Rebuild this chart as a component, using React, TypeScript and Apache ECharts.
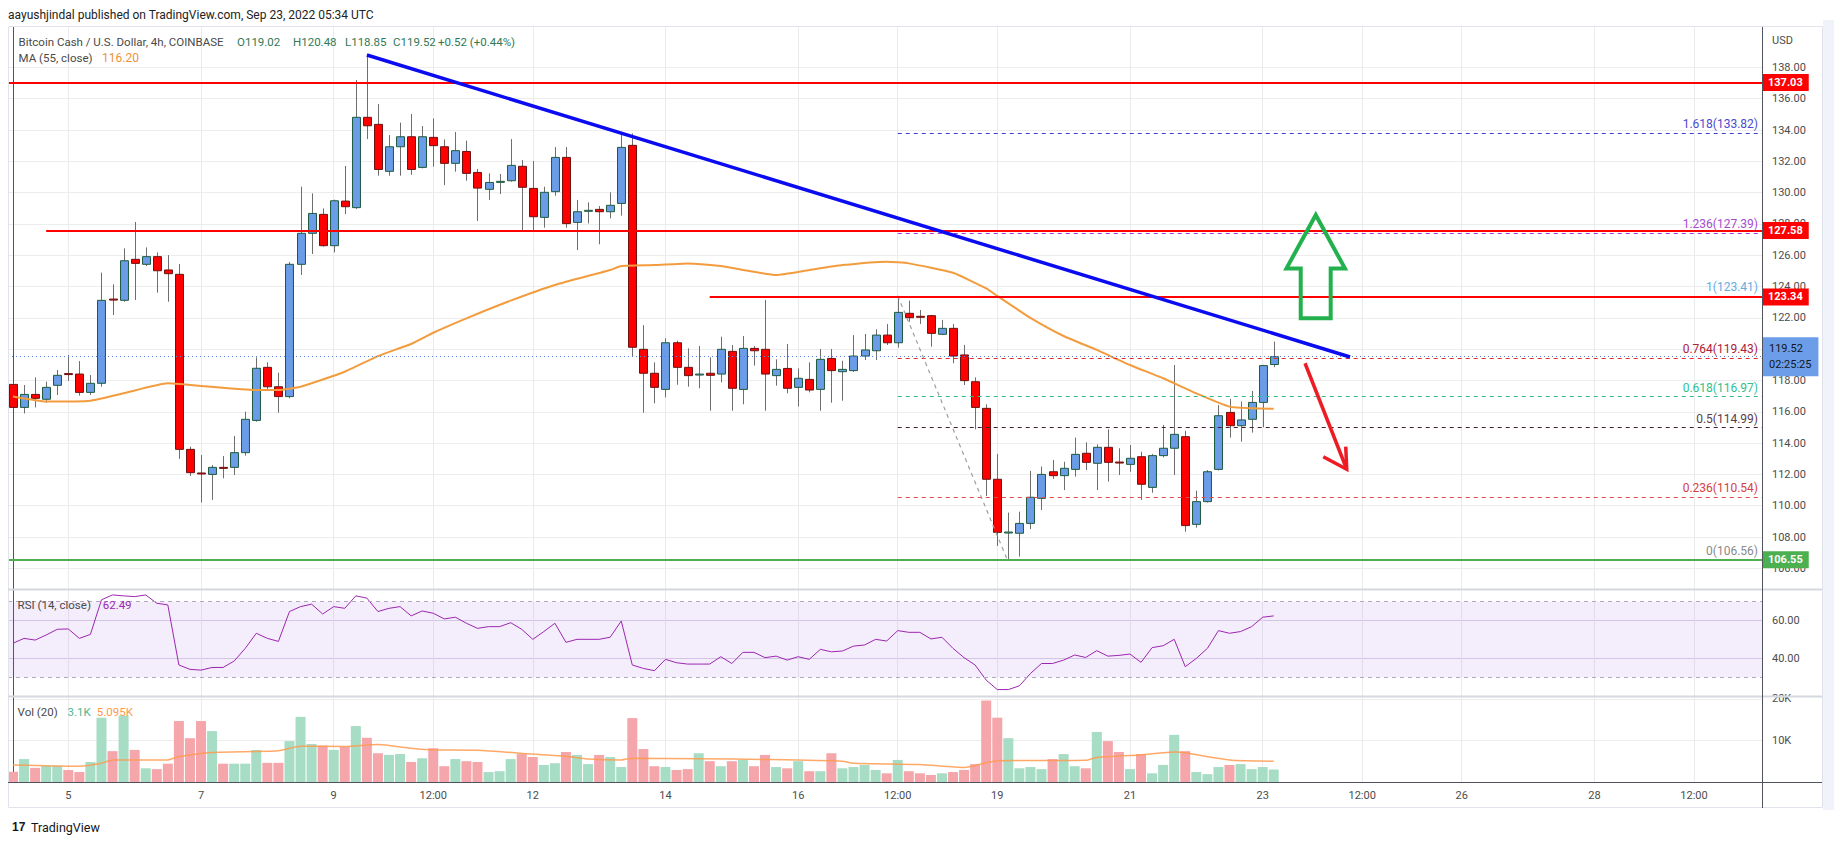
import React, { useEffect, useRef } from 'react';
import * as echarts from 'echarts';

const FONT = 'Roboto, "Noto Sans", sans-serif';

// ---- x axis (candle index, 4h bars starting Sep 4 04:00 UTC) ----
const X_MIN = -0.452;
const X_MAX = 158.15;
const TIME_TICKS = [5, 17, 29, 38, 47, 59, 71, 80, 89, 101, 113, 122, 131, 143, 152];
const TIME_LABELS = ['5', '7', '9', '12:00', '12', '14', '16', '12:00', '19', '21', '23', '12:00', '26', '28', '12:00'];

// ---- price axis ----
const PRICE_MIN = 104.68;
const PRICE_MAX = 140.58;
const PRICE_TICKS = [106, 108, 110, 112, 114, 116, 118, 120, 122, 124, 126, 128, 130, 132, 134, 136, 138];

// ---- candles ----
const OPEN = [
  117.75, 116.28, 117.11, 116.80, 117.69, 118.44, 118.41, 117.24, 117.82, 123.20,
  123.12, 125.74, 125.42, 125.91, 125.06, 124.78, 113.60, 112.09, 112.00, 112.45,
  112.45, 113.39, 115.45, 118.84, 117.60, 116.97, 125.42, 127.40, 128.61, 126.61,
  129.46, 129.04, 134.81, 134.36, 131.36, 132.93, 133.57, 131.61, 133.53, 132.93,
  131.87, 132.63, 131.29, 130.21, 130.68, 130.76, 131.68, 130.27, 128.42, 130.06,
  132.25, 128.10, 128.84, 128.93, 128.78, 129.31, 133.02, 119.99, 118.46, 117.43,
  120.41, 118.84, 118.37, 118.46, 118.41, 119.86, 117.43, 120.05, 119.99, 118.31,
  118.77, 117.56, 118.07, 117.43, 119.41, 118.56, 118.63, 119.56, 119.90, 120.90,
  120.41, 122.29, 122.10, 122.14, 120.95, 121.33, 119.63, 117.92, 116.22, 111.69,
  108.29, 108.24, 108.87, 110.47, 112.17, 111.92, 112.32, 113.35, 112.71, 113.73,
  112.79, 112.64, 113.13, 111.17, 113.20, 113.67, 114.41, 108.81, 110.26, 112.32,
  115.96, 115.11, 115.52, 116.60, 119.02,
];
const CLOSE = [
  116.28, 117.11, 116.86, 117.56, 118.33, 118.40, 117.24, 117.82, 123.12, 123.16,
  125.65, 125.48, 125.91, 125.01, 124.82, 113.60, 112.11, 112.05, 112.45, 112.41,
  113.39, 115.52, 118.78, 117.60, 116.97, 125.42, 127.40, 128.67, 126.61, 129.48,
  129.10, 134.81, 134.27, 131.48, 132.93, 133.57, 131.48, 133.57, 133.00, 131.87,
  132.68, 131.23, 130.29, 130.65, 130.72, 131.74, 130.34, 128.46, 130.02, 132.25,
  128.02, 128.78, 128.87, 128.78, 129.19, 132.89, 120.12, 118.46, 117.56, 120.41,
  118.84, 118.31, 118.41, 118.33, 119.99, 117.50, 120.05, 119.90, 118.41, 118.71,
  117.50, 118.14, 117.39, 119.35, 118.63, 118.71, 119.56, 119.95, 120.90, 120.41,
  122.35, 122.01, 122.06, 121.01, 121.33, 119.56, 117.99, 116.28, 111.69, 108.30,
  108.32, 108.87, 110.54, 112.00, 111.92, 112.39, 113.28, 112.77, 113.73, 112.77,
  112.75, 113.03, 111.37, 113.20, 113.67, 114.56, 108.73, 110.26, 112.17, 115.75,
  115.11, 115.48, 116.60, 118.95, 119.52,
];
const LOW = [
  116.20, 115.90, 116.28, 116.58, 117.07, 117.97, 117.03, 117.07, 117.60, 122.18,
  123.03, 123.14, 125.31, 123.61, 123.03, 112.99, 111.90, 110.20, 110.37, 111.75,
  111.96, 113.20, 115.37, 117.39, 115.94, 116.86, 124.74, 126.08, 126.55, 126.18,
  128.63, 128.95, 133.42, 131.08, 131.08, 131.08, 131.14, 131.55, 131.66, 130.48,
  131.34, 130.76, 128.19, 129.53, 129.91, 130.70, 127.61, 127.61, 127.76, 129.80,
  127.76, 126.33, 128.03, 126.70, 128.36, 128.53, 119.52, 115.94, 116.54, 116.92,
  117.73, 117.60, 117.50, 116.07, 117.88, 116.07, 116.48, 118.95, 116.07, 117.67,
  117.18, 116.33, 117.24, 116.07, 116.58, 116.71, 118.55, 119.31, 119.31, 120.27,
  120.10, 121.76, 121.61, 120.16, 120.90, 119.10, 117.71, 114.88, 110.62, 107.43,
  106.56, 106.75, 108.51, 109.73, 111.71, 111.00, 111.86, 112.28, 111.00, 111.54,
  111.96, 112.17, 110.37, 110.83, 113.09, 111.96, 108.34, 108.60, 110.20, 112.25,
  114.35, 114.09, 114.67, 115.01, 118.85,
];
const HIGH = [
  117.85, 117.71, 118.20, 117.92, 118.67, 119.63, 119.24, 118.35, 124.89, 124.14,
  126.44, 128.12, 126.50, 126.18, 126.01, 125.44, 113.77, 113.24, 112.60, 113.17,
  114.45, 116.01, 119.48, 119.16, 118.50, 125.57, 130.38, 129.95, 128.99, 129.55,
  131.70, 137.19, 138.79, 135.66, 133.68, 134.47, 135.02, 134.25, 134.74, 133.40,
  133.87, 133.32, 131.51, 131.23, 131.19, 133.42, 132.08, 132.02, 130.38, 132.91,
  132.91, 129.53, 129.38, 129.14, 130.02, 133.72, 133.78, 121.54, 119.16, 120.69,
  120.54, 120.05, 120.20, 119.48, 120.80, 120.27, 120.84, 120.20, 123.14, 119.35,
  120.33, 118.77, 119.16, 120.01, 120.01, 119.26, 120.90, 120.97, 121.27, 121.61,
  123.35, 123.10, 122.50, 122.19, 121.86, 121.61, 120.27, 118.20, 116.48, 113.31,
  109.56, 109.62, 112.22, 112.50, 112.92, 112.81, 114.35, 114.05, 113.92, 114.88,
  113.67, 113.88, 113.45, 113.31, 115.16, 118.99, 114.79, 110.96, 112.28, 116.43,
  116.82, 116.65, 117.33, 119.00, 120.48,
];

// MA(55, close) read at points along the line: [candle index, value]
const MA_POINTS = [
  [0, 116.97], [3, 116.65], [7, 116.71], [10, 117.18], [14, 117.82], [17, 117.65], [22, 117.39],
  [24, 117.39], [26, 117.6], [30, 118.56], [33, 119.56], [36, 120.33], [38, 121.05], [41, 121.97],
  [45, 123.1], [49, 124.1], [54, 125.06], [55, 125.31], [58, 125.37], [61, 125.48], [64, 125.31],
  [66, 125.06], [69, 124.74], [72, 125.06], [75, 125.37], [79, 125.59], [81, 125.48], [85, 124.88],
  [88, 123.88], [89, 123.4], [92, 122.0], [95, 120.84], [98, 119.95], [101, 118.99], [104, 118.14],
  [107, 117.18], [110, 116.33], [112, 116.22], [114, 116.2],
];

// RSI(14) per candle
const RSI = [
  48.0, 50.6, 49.7, 52.4, 55.4, 55.6, 50.6, 52.7, 71.0, 73.6,
  73.1, 72.7, 73.6, 69.2, 68.3, 36.5, 34.2, 33.8, 35.2, 35.2,
  38.6, 45.3, 53.3, 50.6, 49.0, 64.8, 67.4, 68.7, 63.5, 67.4,
  66.5, 73.1, 71.9, 64.8, 66.5, 67.4, 62.5, 65.1, 63.9, 60.9,
  61.8, 58.6, 55.9, 56.8, 56.8, 58.9, 55.4, 50.1, 54.2, 58.6,
  48.5, 50.1, 50.1, 50.1, 51.2, 59.8, 36.5, 34.7, 33.5, 39.5,
  37.7, 37.0, 37.0, 37.0, 40.9, 37.3, 43.2, 43.2, 40.4, 41.2,
  39.1, 40.9, 39.5, 44.8, 43.5, 43.9, 46.5, 47.1, 50.1, 49.2,
  54.7, 53.8, 53.8, 50.3, 51.2, 45.3, 40.4, 36.5, 28.5, 23.5,
  23.5, 25.5, 32.0, 37.3, 37.3, 39.1, 41.8, 40.5, 44.1, 41.2,
  41.6, 42.3, 37.9, 45.7, 46.7, 50.1, 35.6, 40.0, 45.3, 54.7,
  53.3, 54.2, 56.8, 61.8, 62.49,
];
const RSI_TICKS = [40, 60];

// Volume per candle, thousands
const VOLUME_K = [
  2.56, 5.6, 3.5, 4.0, 4.0, 3.0, 2.5, 4.9, 15.5, 7.5,
  16.0, 7.8, 3.4, 3.2, 4.5, 14.7, 10.6, 14.7, 12.3, 4.5,
  4.5, 4.5, 7.8, 4.7, 4.7, 9.9, 15.7, 9.2, 8.8, 7.8,
  8.5, 13.5, 10.7, 7.0, 6.6, 6.8, 4.9, 5.8, 8.2, 3.9,
  5.6, 5.1, 4.9, 2.5, 2.7, 5.6, 6.8, 6.1, 4.2, 4.6,
  7.3, 6.6, 4.4, 6.6, 6.1, 3.7, 15.4, 8.0, 3.9, 3.7,
  3.0, 3.2, 7.0, 5.1, 3.9, 5.1, 5.4, 3.9, 6.6, 3.7,
  3.4, 5.1, 2.7, 2.7, 7.0, 3.4, 3.7, 4.2, 3.0, 2.2,
  5.4, 2.7, 2.2, 1.8, 2.2, 2.5, 3.0, 4.4, 19.6, 15.5,
  10.6, 3.4, 3.7, 3.2, 5.6, 6.8, 3.9, 3.4, 12.1, 9.9,
  7.3, 3.2, 6.8, 2.2, 4.2, 11.4, 7.5, 2.5, 2.0, 3.7,
  4.2, 4.4, 3.2, 3.7, 3.1,
];
const VOL_MA_POINTS = [
  [0, 4.2], [6, 3.9], [8, 4.6], [9, 5.4], [14, 5.4], [15, 6.2], [18, 7.2], [24, 7.6], [26, 8.7],
  [30, 8.6], [33, 9.1], [36, 8.2], [38, 7.8], [42, 7.7], [47, 6.8], [50, 6.3], [52, 5.6], [55, 5.4],
  [56, 5.8], [62, 5.7], [68, 5.5], [75, 5.1], [76, 4.6], [82, 4.3], [86, 3.6], [88, 4.7], [89, 5.2],
  [97, 5.3], [98, 6.0], [102, 6.6], [105, 7.3], [106, 7.1], [110, 5.4], [114, 5.1],
];
const VOL_TICKS = [10000, 20000];
const VOL_MAX = 20450;

// ---- drawings ----
const RED_LEVELS = [137.03, 127.58, 123.34];
const RED_LEVEL_STARTS = [X_MIN, 3, 63];
const SUPPORT_LEVEL = 106.55;
const LAST_PRICE = 119.52;
const COUNTDOWN = '02:25:25';
const FIB_RATIOS = ['1.618', '1.236', '1', '0.764', '0.618', '0.5', '0.236', '0'];
const FIB_PRICES = [133.82, 127.39, 123.41, 119.43, 116.97, 114.99, 110.54, 106.56];
const FIB_COLORS = ['#3d3dc8', '#a03cc8', '#64aee0', '#e02a2a', '#2fbf8c', '#4a1a30', '#e04848', '#8a8a8a'];
const FIB_TEXT_COLORS = ['#4a4ad0', '#a54cd0', '#64aee0', '#b0203a', '#2fbf8c', '#5a3a48', '#d84040', '#8a8a8a'];
const FIB_START = 80;
const TREND_LINE = [[32, 138.79], [120.9, 119.5]];
const FIB_DIAGONAL = [[80, 123.41], [89.9, 106.56]];
const ARROW_UP = [
  [117.8, 128.57], [120.44, 125.16], [119.15, 125.16], [119.15, 121.97],
  [116.44, 121.97], [116.44, 125.16], [115.15, 125.16],
];
const ARROW_DOWN_SHAFT = [[116.83, 119.1], [120.6, 112.33]];
const ARROW_DOWN_HEAD = [[118.48, 113.13], [120.6, 112.33], [120.51, 113.77]];

const candleRender = (params: any, api: any) => {
  const i = api.value(0);
  const o = api.value(1);
  const c = api.value(2);
  const l = api.value(3);
  const h = api.value(4);
  const pO = api.coord([i, o]);
  const pC = api.coord([i, c]);
  const pL = api.coord([i, l]);
  const pH = api.coord([i, h]);
  const w = api.size([1, 0])[0] * 0.72;
  const up = c >= o;
  const x = Math.round(pO[0]) + 0.5;
  const top = Math.min(pO[1], pC[1]);
  const ht = Math.max(Math.abs(pO[1] - pC[1]), 1);
  return {
    type: 'group',
    children: [
      { type: 'line', shape: { x1: x, y1: pH[1], x2: x, y2: pL[1] }, style: { stroke: '#6e6e6e', lineWidth: 1 } },
      {
        type: 'rect',
        shape: { x: x - w / 2, y: top, width: w, height: ht },
        style: { fill: up ? '#6a9ce7' : '#ff0000', stroke: up ? '#1f5b3d' : '#6e1111', lineWidth: 1 },
      },
    ],
  };
};

const arrowRender = (params: any, api: any) => {
  const up = ARROW_UP.map((p) => api.coord(p));
  const shaft = ARROW_DOWN_SHAFT.map((p) => api.coord(p));
  const head = ARROW_DOWN_HEAD.map((p) => api.coord(p));
  return {
    type: 'group',
    children: [
      { type: 'polygon', shape: { points: up }, style: { fill: null, stroke: '#22b14c', lineWidth: 4, lineJoin: 'miter' } },
      { type: 'polyline', shape: { points: shaft }, style: { fill: null, stroke: '#ed1c24', lineWidth: 3.5 } },
      { type: 'polyline', shape: { points: head }, style: { fill: null, stroke: '#ed1c24', lineWidth: 3.5, lineJoin: 'miter' } },
    ],
  };
};

function buildOption() {
  const candleData = OPEN.map((o, i) => [i, o, CLOSE[i], LOW[i], HIGH[i]]);
  const volData = VOLUME_K.map((v, i) => ({
    value: [i, v * 1000],
    itemStyle: { color: CLOSE[i] >= OPEN[i] ? '#a7dcc5' : '#f5a6ab' },
  }));
  const rsiData = RSI.map((v, i) => [i, v]);
  const volMaData = VOL_MA_POINTS.map(([i, v]) => [i, v * 1000]);

  const axisLabelBase = { color: '#4c4c4c', fontSize: 11, fontFamily: FONT };

  const mkX = (gridIndex: number, showLabels: boolean) => ({
    type: 'value',
    gridIndex,
    min: X_MIN,
    max: X_MAX,
    axisLine: { show: false },
    axisTick: { show: false, customValues: TIME_TICKS },
    axisLabel: {
      ...axisLabelBase,
      show: showLabels,
      customValues: TIME_TICKS,
      margin: 7,
      formatter: (v: number) => {
        const k = TIME_TICKS.indexOf(Math.round(v));
        return k >= 0 ? TIME_LABELS[k] : '';
      },
    },
    splitLine: { show: true, lineStyle: { color: '#ebebeb', width: 1 } },
  });

  const mkY = (gridIndex: number, min: number, max: number, ticks: number[], fmt: (v: number) => string, splitColor: string) => ({
    type: 'value',
    gridIndex,
    position: 'right',
    min,
    max,
    axisLine: { show: true, lineStyle: { color: '#50535e', width: 1 } },
    axisTick: { show: false, customValues: ticks },
    axisLabel: { ...axisLabelBase, customValues: ticks, margin: 10, formatter: fmt },
    splitLine: { show: true, lineStyle: { color: splitColor, width: 1 } },
  });

  const fibLines = FIB_PRICES.map((p, k) => [
    {
      coord: [FIB_START, p],
      lineStyle: { color: FIB_COLORS[k], width: 1, type: [4, 4] },
      label: {
        show: true,
        position: 'insideEndTop',
        distance: [4, 3],
        formatter: `${FIB_RATIOS[k]}(${p.toFixed(2)})`,
        color: FIB_TEXT_COLORS[k],
        fontSize: 12,
        fontFamily: FONT,
      },
    },
    { coord: [X_MAX, p] },
  ]);

  const tagLabel = (bg: string, text: string) => ({
    show: true,
    position: 'end',
    distance: 0,
    formatter: text,
    backgroundColor: bg,
    color: '#ffffff',
    fontWeight: 'bold',
    fontSize: 11,
    fontFamily: FONT,
    lineHeight: 13,
    padding: [2, 6, 2, 6],
  });

  const redLines = RED_LEVELS.map((v, k) => [
    { coord: [RED_LEVEL_STARTS[k], v], lineStyle: { color: '#ff0000', width: 2, type: 'solid' }, label: tagLabel('#ff0000', v.toFixed(2)) },
    { coord: [X_MAX, v] },
  ]);

  const supportLine = [
    { coord: [X_MIN, SUPPORT_LEVEL], lineStyle: { color: '#4caf50', width: 2, type: 'solid' }, label: tagLabel('#4caf50', SUPPORT_LEVEL.toFixed(2)) },
    { coord: [X_MAX, SUPPORT_LEVEL] },
  ];

  const priceLine = [
    {
      coord: [X_MIN, LAST_PRICE],
      lineStyle: { color: '#5b80d8', width: 1, type: [1, 3] },
      label: {
        show: true,
        position: 'end',
        distance: 0,
        formatter: `${LAST_PRICE.toFixed(2)}\n${COUNTDOWN}`,
        backgroundColor: '#6b9de8',
        color: '#131722',
        fontSize: 11,
        fontFamily: FONT,
        lineHeight: 16,
        align: 'left',
        padding: [4, 7, 3, 7],
      },
    },
    { coord: [X_MAX, LAST_PRICE] },
  ];

  const trendLine = [
    { coord: TREND_LINE[0], lineStyle: { color: '#0b0bf2', width: 3.5, type: 'solid' }, label: { show: false } },
    { coord: TREND_LINE[1] },
  ];
  const diagLine = [
    { coord: FIB_DIAGONAL[0], lineStyle: { color: '#9e9e9e', width: 1.2, type: [4, 4] }, label: { show: false } },
    { coord: FIB_DIAGONAL[1] },
  ];

  const text = (x: number, y: number, t: string, fill: string, size = 11.5, extra: any = {}) => ({
    type: 'text',
    x,
    y,
    silent: true,
    z: 100,
    style: { text: t, fill, font: `${size}px ${FONT}`, verticalAlign: 'middle', ...extra },
  });

  const line = (x1: number, y1: number, x2: number, y2: number, stroke: string, lineWidth = 1) => ({
    type: 'line',
    silent: true,
    z: 50,
    shape: { x1, y1, x2, y2 },
    style: { stroke, lineWidth },
  });

  const grey = '#4a4a4a';
  const green = '#2f7a57';

  return {
    animation: false,
    backgroundColor: '#ffffff',
    textStyle: { fontFamily: FONT },
    grid: [
      { left: 8, right: 72, top: 27, height: 562, outerBoundsMode: 'none' },
      { left: 8, right: 72, top: 590, height: 106, outerBoundsMode: 'none' },
      { left: 8, right: 72, top: 697, height: 85.5, outerBoundsMode: 'none' },
    ],
    xAxis: [mkX(0, false), mkX(1, false), mkX(2, true)],
    yAxis: [
      mkY(0, PRICE_MIN, PRICE_MAX, PRICE_TICKS, (v) => v.toFixed(2), '#ededed'),
      mkY(1, 20.1, 76.2, RSI_TICKS, (v) => v.toFixed(2), '#dcd3e8'),
      mkY(2, 0, VOL_MAX, VOL_TICKS, (v) => `${Math.round(v / 1000)}K`, '#ededed'),
    ],
    series: [
      {
        type: 'custom',
        name: 'BCHUSD',
        xAxisIndex: 0,
        yAxisIndex: 0,
        renderItem: candleRender,
        data: candleData,
        encode: { x: 0, y: [1, 2, 3, 4] },
        z: 2,
        silent: true,
      },
      {
        type: 'line',
        name: 'MA (55, close)',
        xAxisIndex: 0,
        yAxisIndex: 0,
        data: MA_POINTS,
        showSymbol: false,
        smooth: 0.15,
        clip: false,
        silent: true,
        z: 3,
        lineStyle: { color: '#f39c3d', width: 2 },
        markLine: {
          silent: true,
          symbol: ['none', 'none'],
          animation: false,
          label: { show: false },
          data: [...fibLines, diagLine, priceLine, supportLine, ...redLines, trendLine],
        },
      },
      {
        type: 'custom',
        name: 'arrows',
        xAxisIndex: 0,
        yAxisIndex: 0,
        renderItem: arrowRender,
        data: [[118, 125]],
        encode: { x: 0, y: 1 },
        z: 8,
        silent: true,
      },
      {
        type: 'line',
        name: 'RSI',
        xAxisIndex: 1,
        yAxisIndex: 1,
        data: rsiData,
        showSymbol: false,
        silent: true,
        lineStyle: { color: '#9c27b0', width: 1 },
        markArea: {
          silent: true,
          itemStyle: { color: 'rgba(155, 89, 220, 0.11)' },
          data: [[{ yAxis: 30 }, { yAxis: 70 }]],
        },
        markLine: {
          silent: true,
          symbol: ['none', 'none'],
          label: { show: false },
          lineStyle: { color: '#b3a6c4', width: 1, type: [4, 4] },
          data: [{ yAxis: 70 }, { yAxis: 30 }],
        },
      },
      {
        type: 'bar',
        name: 'Volume',
        xAxisIndex: 2,
        yAxisIndex: 2,
        data: volData,
        barWidth: 10,
        silent: true,
      },
      {
        type: 'line',
        name: 'Vol MA',
        xAxisIndex: 2,
        yAxisIndex: 2,
        data: volMaData,
        showSymbol: false,
        silent: true,
        smooth: 0.2,
        lineStyle: { color: '#ff9a4f', width: 1.5, opacity: 0.85 },
      },
    ],
    graphic: {
      elements: [
        { type: 'rect', silent: true, z: 40, shape: { x: 1823, y: 20, width: 11, height: 790 }, style: { fill: '#f0f3fa' } },
        { type: 'rect', silent: true, z: 40, shape: { x: 8.5, y: 26.5, width: 1814, height: 781 }, style: { fill: null, stroke: '#e0e3eb', lineWidth: 1 } },
        line(8, 589.5, 1822, 589.5, '#d6d8e0', 2),
        line(8, 696.5, 1822, 696.5, '#d6d8e0', 2),
        line(8, 782.5, 1822, 782.5, '#50535e', 1),
        line(1762.5, 27, 1762.5, 808, '#50535e', 1),
        text(8, 15, 'aayushjindal published on TradingView.com, Sep 23, 2022 05:34 UTC', '#222222', 12),
        text(18.6, 41.7, 'Bitcoin Cash / U.S. Dollar, 4h, COINBASE', grey),
        text(237, 41.7, 'O119.02', green),
        text(293, 41.7, 'H120.48', green),
        text(345, 41.7, 'L118.85', green),
        text(393, 41.7, 'C119.52', green),
        text(438, 41.7, '+0.52 (+0.44%)', green),
        text(18.6, 58.3, 'MA (55, close)', grey),
        text(102, 58.3, '116.20', '#f0913a', 12),
        text(17.6, 605, 'RSI (14, close)', grey),
        text(102.7, 605, '62.49', '#9c27b0'),
        text(17.6, 711.7, 'Vol (20)', grey),
        text(67.5, 711.7, '3.1K', '#4fb592'),
        text(96.8, 711.7, '5.095K', '#ff9848'),
        text(1772, 40, 'USD', '#4c4c4c', 11),
        text(12, 827, '17', '#131722', 14, { fontWeight: 900, font: `900 14px ${FONT}` }),
        text(31, 827, 'TradingView', '#131722', 12.5),
      ],
    },
  };
}

export default function App() {
  const ref = useRef<HTMLDivElement>(null);
  useEffect(() => {
    if (!ref.current) return;
    const chart = echarts.init(ref.current, null, { renderer: 'svg' });
    chart.setOption(buildOption() as any);
    return () => chart.dispose();
  }, []);
  return (
    <div
      ref={ref}
      style={{ position: 'fixed', left: 0, top: 0, width: 1834, height: 845, background: '#ffffff' }}
    />
  );
}
